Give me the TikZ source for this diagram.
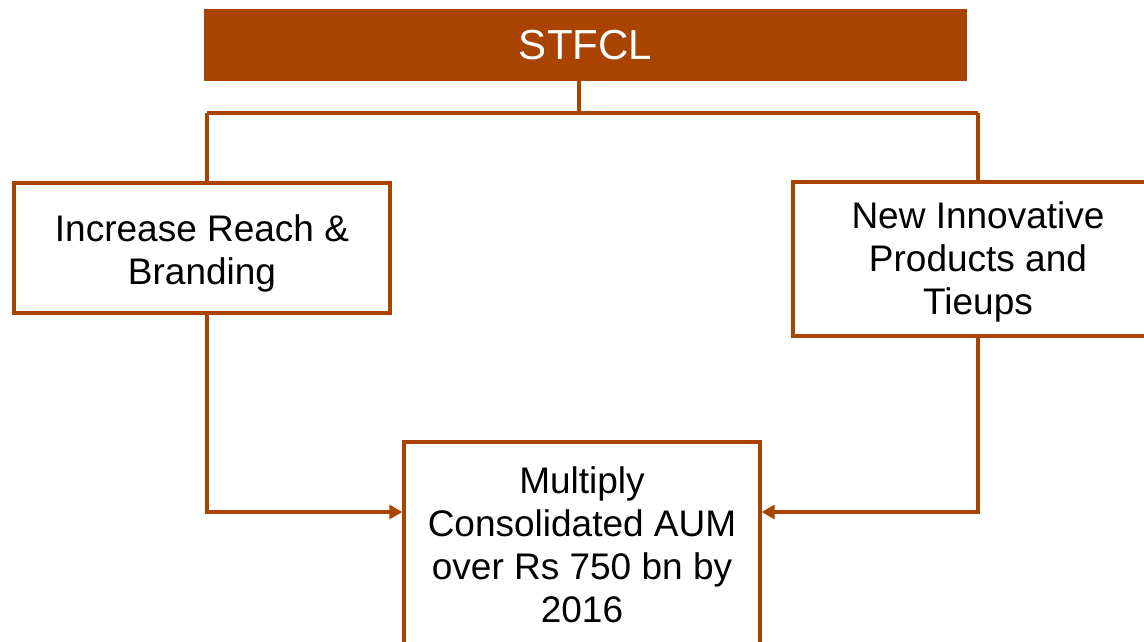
\documentclass[tikz,border=0pt]{standalone}
\usepackage{fontspec}
\setmainfont{Liberation Sans}
\usetikzlibrary{arrows.meta}
\definecolor{rust}{RGB}{168,67,0}
\tikzset{
  box/.style={draw=rust, line width=3.4pt, fill=white, inner sep=0pt},
  txt/.style={align=center, inner sep=0pt, font=\fontsize{37}{43}\selectfont},
  conn/.style={draw=rust, line width=3.4pt},
  arr/.style={conn, -{Triangle[length=13pt,width=14pt]}}
}
\begin{document}
\begin{tikzpicture}[x=1pt,y=-1pt]
\useasboundingbox (0,0) rectangle (1144,642);
\clip (0,0) rectangle (1144,642);
\node[fill=rust, minimum width=763pt, minimum height=72pt, inner sep=0pt,
  text=white, font=\fontsize{42}{48}\selectfont] (top) at (585.5,45) {STFCL};
\node[box, minimum width=376pt, minimum height=130pt,
  label={[txt, yshift=-5pt]center:{Increase Reach \&\\Branding}}] (left) at (202,248) {};
\node[box, minimum width=370pt, minimum height=154pt,
  label={[txt, yshift=-3pt]center:{New Innovative\\Products and\\Tieups}}] (right) at (978,259) {};
\node[box, minimum width=356pt, minimum height=206pt,
  label={[txt]center:{Multiply\\Consolidated AUM\\over Rs 750 bn by\\2016}}] (goal) at (582,545) {};
\coordinate (hub) at (579,113);
\coordinate (lx) at (207,113);
\coordinate (rx) at (978,113);
\coordinate (ay) at (0,512);
\draw[conn] (top.south -| hub) -- (hub);
\draw[conn] (lx) -- (rx);
\draw[conn] (lx) -- (lx |- left.north);
\draw[conn] (rx) -- (rx |- right.north);
\draw[arr] (lx |- left.south) |- (goal.west |- ay);
\draw[arr] (rx |- right.south) |- (goal.east |- ay);
\end{tikzpicture}
\end{document}
